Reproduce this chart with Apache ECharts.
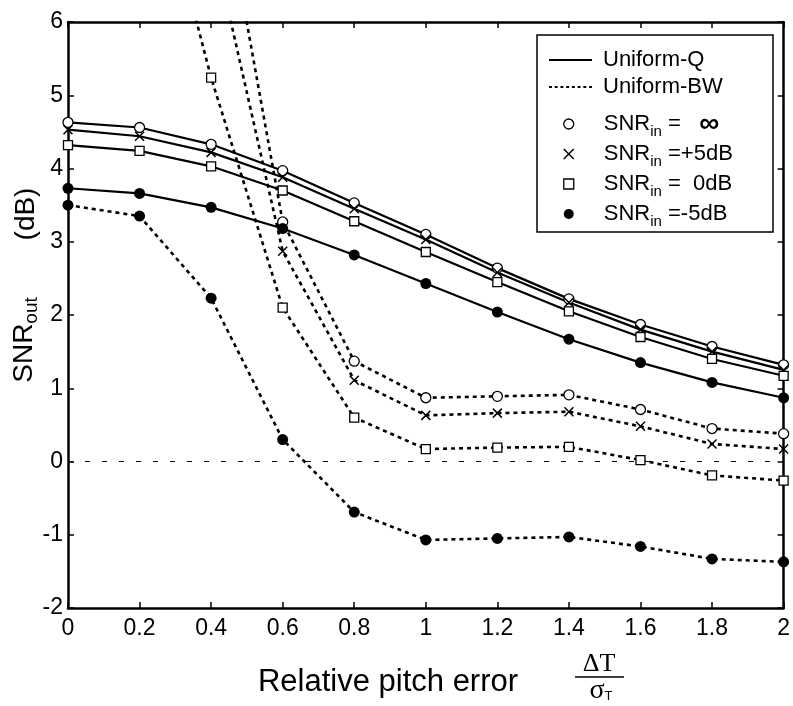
<!DOCTYPE html>
<html><head><meta charset="utf-8">
<script src="https://cdn.jsdelivr.net/npm/echarts@6/dist/echarts.min.js"></script>
<style>html,body{margin:0;padding:0;background:#fff}#c{width:793px;height:706px}</style>
</head><body><div id="c"></div>
<script>
// ---- data ----
const xValues = [0, 0.2, 0.4, 0.6, 0.8, 1.0, 1.2, 1.4, 1.6, 1.8, 2.0];
const xTickLabels = ['0', '0.2', '0.4', '0.6', '0.8', '1', '1.2', '1.4', '1.6', '1.8', '2'];
const yTickLabels = ['-2', '-1', '0', '1', '2', '3', '4', '5', '6'];
// Uniform-Q (solid)
const qInf = [4.63, 4.56, 4.33, 3.97, 3.53, 3.10, 2.64, 2.22, 1.87, 1.57, 1.32];
const qP5  = [4.53, 4.44, 4.22, 3.88, 3.45, 3.03, 2.58, 2.17, 1.80, 1.50, 1.25];
const q0   = [4.32, 4.24, 4.03, 3.70, 3.28, 2.86, 2.45, 2.05, 1.70, 1.40, 1.17];
const qM5  = [3.73, 3.66, 3.47, 3.18, 2.82, 2.43, 2.04, 1.67, 1.35, 1.08, 0.87];
// Uniform-BW (dashed)
const bwInf = [null, null, 8.7, 3.27, 1.37, 0.87, 0.89, 0.91, 0.71, 0.45, 0.38];
const bwP5  = [null, null, 7.2, 2.87, 1.11, 0.63, 0.66, 0.68, 0.48, 0.24, 0.17];
const bw0   = [null, 9.0, 5.24, 2.10, 0.60, 0.17, 0.19, 0.20, 0.02, -0.19, -0.26];
const bwM5  = [3.50, 3.35, 2.23, 0.30, -0.69, -1.07, -1.05, -1.03, -1.16, -1.33, -1.37];
const legendNames = ['inf', 'p5', 'zero', 'm5'];
const legendTexts = {
  inf: '{pre|}{s|SNR}{sub|in}{s| =   }{inf|∞}',
  p5: '{pre|}{s|SNR}{sub|in}{s| =+5dB}',
  zero: '{pre|}{s|SNR}{sub|in}{s| =  0dB}',
  m5: '{pre|}{s|SNR}{sub|in}{s| =-5dB}'
};
const lineNames = ['Uniform-Q', 'Uniform-BW'];

// ---- build ----
const FONT = 'Liberation Sans, Arial, sans-serif';
function pairs(arr) {
  const out = [];
  arr.forEach((v, i) => { if (v !== null) out.push([xValues[i], v]); });
  return out;
}
const xPath = 'path://M0,0L10,10M10,0L0,10';
const markers = {
  inf: { symbol: 'circle', symbolSize: 10, itemStyle: { color: '#fff', borderColor: '#000', borderWidth: 1.3 } },
  p5: { symbol: xPath, symbolSize: 9, itemStyle: { color: 'rgba(0,0,0,0)', borderColor: '#000', borderWidth: 1.5 } },
  zero: { symbol: 'rect', symbolSize: 9, itemStyle: { color: '#fff', borderColor: '#000', borderWidth: 1.3 } },
  m5: { symbol: 'circle', symbolSize: 11, itemStyle: { color: '#000', borderColor: '#000', borderWidth: 0 } }
};
function mkSeries(name, arr, dashed) {
  const m = markers[name];
  return {
    name: name, type: 'line', data: pairs(arr), clip: true,
    symbol: m.symbol, symbolSize: m.symbolSize, showAllSymbol: true,
    itemStyle: m.itemStyle,
    lineStyle: { color: '#000', width: dashed ? 2.6 : 2.2, type: dashed ? [4, 4] : 'solid' },
    emphasis: { disabled: true }, z: dashed ? 3 : 4
  };
}
const series = [
  { name: 'zeroLine', type: 'line', data: [[0, 0], [2, 0]], symbol: 'none', silent: true,
    lineStyle: { color: '#000', width: 1, type: [5, 12] } },
  mkSeries('inf', qInf, false), mkSeries('p5', qP5, false), mkSeries('zero', q0, false), mkSeries('m5', qM5, false),
  mkSeries('inf', bwInf, true), mkSeries('p5', bwP5, true), mkSeries('zero', bw0, true), mkSeries('m5', bwM5, true),
  { name: lineNames[0], type: 'line', data: [], symbol: 'none', itemStyle: { color: '#000' }, lineStyle: { color: '#000', width: 2, type: 'solid' } },
  { name: lineNames[1], type: 'line', data: [], symbol: 'none', itemStyle: { color: '#000' }, lineStyle: { color: '#000', width: 1.5, type: [3, 3] } }
];
// legend line icons (solid / dotted)
const solidIcon = 'path://M0,0h44v2h-44z';
let dashedIcon = 'path://';
for (let i = 0; i < 8; i++) dashedIcon += 'M' + (i * 5.8) + ',0h3v2h-3z';

const axisCommon = {
  axisLine: { show: true, onZero: false, lineStyle: { color: '#000', width: 2.5 } },
  axisTick: { show: true, inside: true, length: 6, lineStyle: { color: '#000', width: 1.5 } },
  splitLine: { show: false }
};
const chart = echarts.init(document.getElementById('c'), null, { renderer: 'canvas' });
chart.setOption({
  animation: false,
  backgroundColor: '#fff',
  grid: { left: 68, right: 6, top: 22, bottom: 98 },
  xAxis: [
    Object.assign({ type: 'value', min: 0, max: 2, interval: 0.2, position: 'bottom',
      axisLabel: { color: '#000', fontFamily: FONT, fontSize: 23, margin: 9,
        formatter: v => xTickLabels[Math.round(v / 0.2)] } }, axisCommon),
    Object.assign({ type: 'value', min: 0, max: 2, interval: 0.2, position: 'top',
      axisLabel: { show: false } }, axisCommon)
  ],
  yAxis: [
    Object.assign({ type: 'value', min: -2, max: 6, interval: 1, position: 'left',
      axisLabel: { color: '#000', fontFamily: FONT, fontSize: 23, margin: 5,
        formatter: v => yTickLabels[Math.round(v + 2)] } }, axisCommon),
    Object.assign({ type: 'value', min: -2, max: 6, interval: 1, position: 'right',
      axisLabel: { show: false } }, axisCommon)
  ],
  legend: [
    { data: [
        { name: lineNames[0], icon: solidIcon, itemStyle: { color: '#000', borderWidth: 0 } },
        { name: lineNames[1], icon: dashedIcon, itemStyle: { color: '#000', borderWidth: 0 } }
      ],
      orient: 'vertical', left: 549, top: 49, padding: 0, itemWidth: 43, itemHeight: 2, itemGap: 5,
      selectedMode: false,
      formatter: n => '{a|' + n + '}',
      textStyle: { rich: { a: { fontFamily: FONT, fontSize: 22, color: '#000', lineHeight: 26, padding: [0, 0, 0, 6] } } } },
    { data: legendNames.map(n => ({ name: n, icon: markers[n].symbol, itemStyle: markers[n].itemStyle })),
      orient: 'vertical', left: 563, top: 109, padding: 0, itemWidth: 10, itemHeight: 10, itemGap: 0,
      selectedMode: false,
      formatter: n => legendTexts[n],
      textStyle: { rich: {
        s: { fontFamily: FONT, fontSize: 22, color: '#000', lineHeight: 28 },
        pre: { width: 25 },
        sub: { fontFamily: FONT, fontSize: 15, color: '#000', lineHeight: 15, padding: [15, 0, 0, 0] },
        inf: { fontFamily: FONT, fontSize: 28, fontWeight: 'bold', color: '#000', lineHeight: 28 }
      } } }
  ],
  graphic: [
    { type: 'rect', shape: { x: 537, y: 35, width: 236, height: 197 }, z: 1,
      style: { fill: 'none', stroke: '#000', lineWidth: 1.5 } },
    { type: 'text', x: 26, y: 214, rotation: Math.PI / 2, z: 10,
      style: { text: '(dB)', fontFamily: FONT, fontSize: 28, fill: '#000', textAlign: 'center', textVerticalAlign: 'middle' } },
    { type: 'text', x: 24, y: 340, rotation: Math.PI / 2, z: 10,
      style: { text: '{a|SNR}{b|out}', textAlign: 'center', textVerticalAlign: 'middle',
        rich: { a: { fontFamily: FONT, fontSize: 28, fill: '#000', lineHeight: 32 },
                b: { fontFamily: FONT, fontSize: 19, fill: '#000', lineHeight: 19, padding: [16, 0, 0, 0] } } } },
    { type: 'text', x: 388, y: 682, z: 10,
      style: { text: 'Relative pitch error', fontFamily: FONT, fontSize: 31, fill: '#000', textAlign: 'center', textVerticalAlign: 'middle' } },
    { type: 'text', x: 599, y: 664, z: 10,
      style: { text: 'ΔT', fontFamily: 'Liberation Serif, Times New Roman, serif', fontSize: 26, fill: '#000', textAlign: 'center', textVerticalAlign: 'middle' } },
    { type: 'line', shape: { x1: 575, y1: 677, x2: 624, y2: 677 }, z: 10, style: { stroke: '#000', lineWidth: 1.5 } },
    { type: 'text', x: 601, y: 691, z: 10,
      style: { text: '{a|σ}{b|T}', textAlign: 'center', textVerticalAlign: 'middle',
        rich: { a: { fontFamily: 'Liberation Serif, Times New Roman, serif', fontSize: 28, fill: '#000', lineHeight: 28 },
                b: { fontFamily: FONT, fontSize: 13, fill: '#000', lineHeight: 13, padding: [10, 0, 0, 0] } } } }
  ],
  series: series
});
</script>
</body></html>
